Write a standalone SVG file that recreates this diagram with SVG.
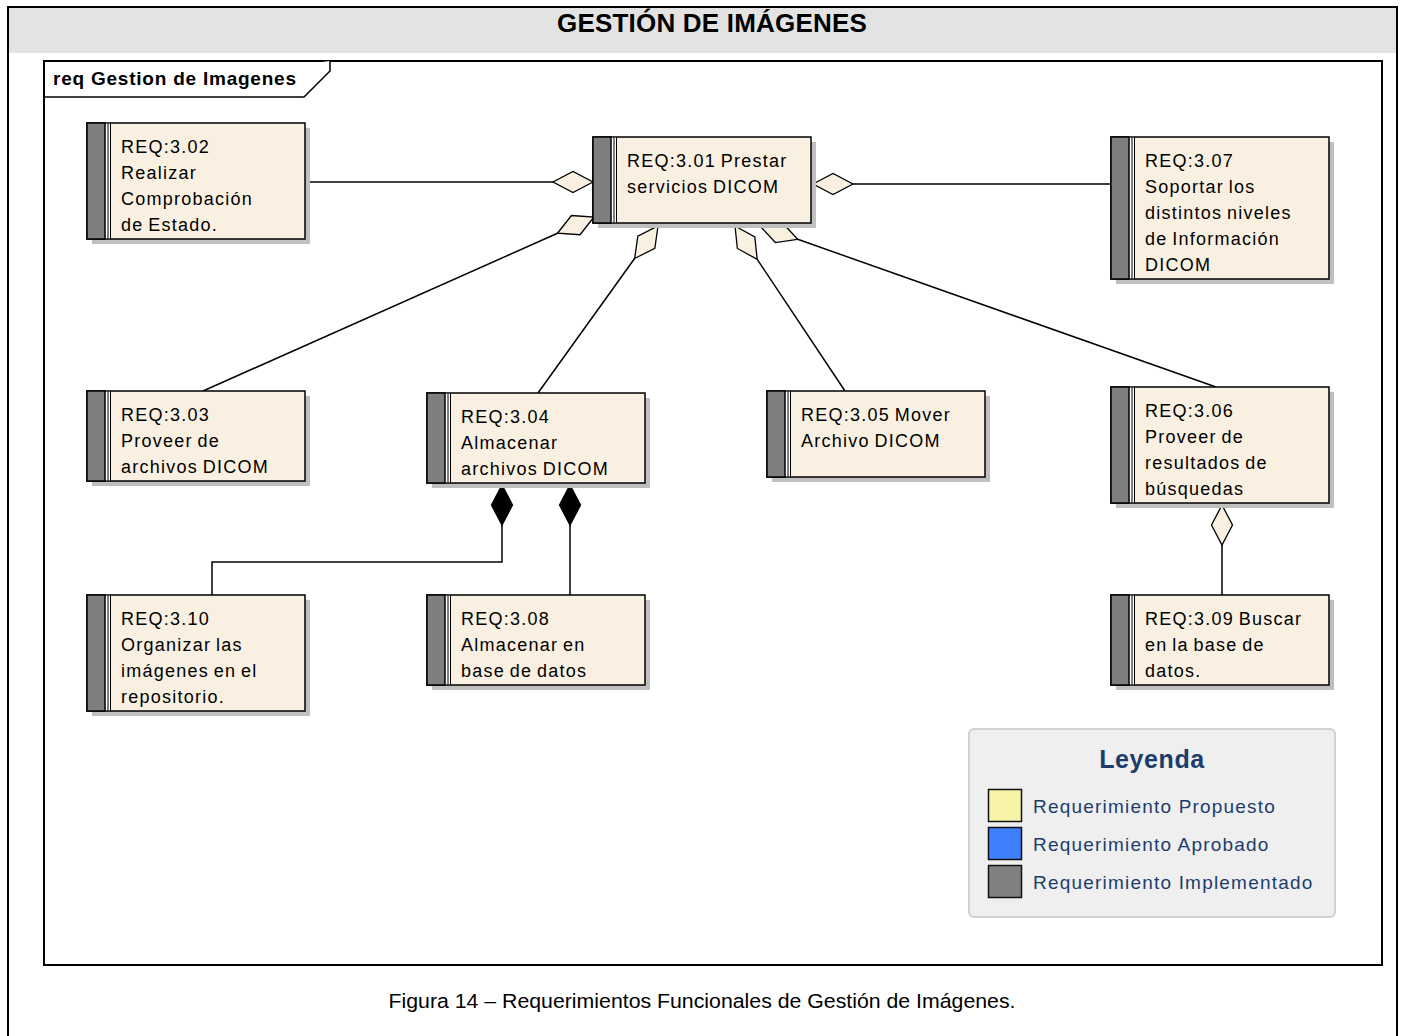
<svg xmlns="http://www.w3.org/2000/svg" width="1405" height="1036" viewBox="0 0 1405 1036">
  <style>
    .frame { fill: none; stroke: #000; stroke-width: 2; }
    .shadow { fill: #bfbfbf; }
    .body { fill: #faf0e2; stroke: #000; stroke-width: 1.5; }
    .bar { fill: #7f7f7f; stroke: #000; stroke-width: 1.5; }
    .gap { fill: #fff; }
    .sep { stroke: #000; stroke-width: 1; }
    .t { font-family: "Liberation Sans", Arial, sans-serif; font-size: 18px; letter-spacing: 1.25px; word-spacing: -1.5px; fill: #000; }
    .conn { fill: none; stroke: #000; stroke-width: 1.5; }
    .agg { fill: #faf0e2; stroke: #000; stroke-width: 1.3; }
    .comp { fill: #000; stroke: #000; stroke-width: 1.3; }
    .lg { font-family: "Liberation Sans", Arial, sans-serif; font-size: 19px; letter-spacing: 1.2px; fill: #1c3d6b; }
    .sw { stroke: #111; stroke-width: 1.5; }
  </style>
  <defs>
    <!-- diamond with its tip at the origin, pointing back along +x -->
    <path id="dia" d="M0,0 L20,-10.5 L40,0 L20,10.5 Z"/>
  </defs>

  <rect x="0" y="0" width="1405" height="1036" fill="#fff"/>

  <!-- outer page frame with grey title band -->
  <rect x="8" y="7" width="1389" height="46" fill="#e3e3e3"/>
  <rect class="frame" x="8" y="7" width="1389" height="1040"/>
  <text x="712" y="32" text-anchor="middle" font-family="Liberation Sans, Arial, sans-serif" font-weight="bold" font-size="26" letter-spacing="0.2" fill="#000">GESTIÓN DE IMÁGENES</text>

  <!-- diagram frame -->
  <rect class="frame" x="44" y="61" width="1338" height="904"/>
  <path d="M44,97 H304 L330,71 V61" fill="#fff" stroke="#000" stroke-width="1.5"/>
  <text x="53" y="85" font-family="Liberation Sans, Arial, sans-serif" font-weight="bold" font-size="19" textLength="243" lengthAdjust="spacing" fill="#000">req Gestion de Imagenes</text>

  <!-- connectors -->
  <g id="connectors">
    <!-- 3.02 -> 3.01 -->
    <line class="conn" x1="305" y1="182" x2="553" y2="182"/>
    <use href="#dia" class="agg" transform="translate(593,182) rotate(180)"/>
    <!-- 3.07 -> 3.01 -->
    <line class="conn" x1="853" y1="184" x2="1111" y2="184"/>
    <use href="#dia" class="agg" transform="translate(813,184)"/>
    <!-- 3.03 -> 3.01 -->
    <line class="conn" x1="557.5" y1="233.3" x2="203" y2="391"/>
    <use href="#dia" class="agg" transform="translate(594,217) rotate(156)"/>
    <!-- 3.04 -> 3.01 -->
    <line class="conn" x1="634.6" y1="258.5" x2="538" y2="393"/>
    <use href="#dia" class="agg" transform="translate(658,226) rotate(125.7)"/>
    <!-- 3.05 -> 3.01 -->
    <line class="conn" x1="757.2" y1="259.3" x2="845" y2="391"/>
    <use href="#dia" class="agg" transform="translate(735,226) rotate(56.3)"/>
    <!-- 3.06 -> 3.01 -->
    <line class="conn" x1="797.7" y1="239.3" x2="1216" y2="387"/>
    <use href="#dia" class="agg" transform="translate(760,226) rotate(19.45)"/>
    <!-- 3.10 -> 3.04 (composition) -->
    <polyline class="conn" points="212,595 212,562 502,562 502,525"/>
    <use href="#dia" class="comp" transform="translate(502,485) rotate(90)"/>
    <!-- 3.08 -> 3.04 (composition) -->
    <line class="conn" x1="570" y1="525" x2="570" y2="595"/>
    <use href="#dia" class="comp" transform="translate(570,485) rotate(90)"/>
    <!-- 3.09 -> 3.06 -->
    <line class="conn" x1="1222" y1="545" x2="1222" y2="595"/>
    <use href="#dia" class="agg" transform="translate(1222,505) rotate(90)"/>
  </g>

  <!-- requirement nodes -->
  <g id="req-3-02" transform="translate(87,123)">
    <rect class="shadow" x="5" y="5" width="218" height="116"/>
    <rect class="body" width="218" height="116"/>
    <rect class="gap" x="18" y="0.75" width="5.5" height="114.5"/>
    <rect class="bar" width="18" height="116"/>
    <line class="sep" x1="21" y1="0" x2="21" y2="116"/>
    <line class="sep" x1="23.5" y1="0" x2="23.5" y2="116"/>
    <text class="t" x="34" y="30">REQ:3.02</text>
    <text class="t" x="34" y="56">Realizar</text>
    <text class="t" x="34" y="82">Comprobación</text>
    <text class="t" x="34" y="108">de Estado.</text>
  </g>

  <g id="req-3-01" transform="translate(593,137)">
    <rect class="shadow" x="5" y="5" width="218" height="86"/>
    <rect class="body" width="218" height="86"/>
    <rect class="gap" x="18" y="0.75" width="5.5" height="84.5"/>
    <rect class="bar" width="18" height="86"/>
    <line class="sep" x1="21" y1="0" x2="21" y2="86"/>
    <line class="sep" x1="23.5" y1="0" x2="23.5" y2="86"/>
    <text class="t" x="34" y="30">REQ:3.01 Prestar</text>
    <text class="t" x="34" y="56">servicios DICOM</text>
  </g>

  <g id="req-3-07" transform="translate(1111,137)">
    <rect class="shadow" x="5" y="5" width="218" height="142"/>
    <rect class="body" width="218" height="142"/>
    <rect class="gap" x="18" y="0.75" width="5.5" height="140.5"/>
    <rect class="bar" width="18" height="142"/>
    <line class="sep" x1="21" y1="0" x2="21" y2="142"/>
    <line class="sep" x1="23.5" y1="0" x2="23.5" y2="142"/>
    <text class="t" x="34" y="30">REQ:3.07</text>
    <text class="t" x="34" y="56">Soportar los</text>
    <text class="t" x="34" y="82">distintos niveles</text>
    <text class="t" x="34" y="108">de Información</text>
    <text class="t" x="34" y="134">DICOM</text>
  </g>

  <g id="req-3-03" transform="translate(87,391)">
    <rect class="shadow" x="5" y="5" width="218" height="90"/>
    <rect class="body" width="218" height="90"/>
    <rect class="gap" x="18" y="0.75" width="5.5" height="88.5"/>
    <rect class="bar" width="18" height="90"/>
    <line class="sep" x1="21" y1="0" x2="21" y2="90"/>
    <line class="sep" x1="23.5" y1="0" x2="23.5" y2="90"/>
    <text class="t" x="34" y="30">REQ:3.03</text>
    <text class="t" x="34" y="56">Proveer de</text>
    <text class="t" x="34" y="82">archivos DICOM</text>
  </g>

  <g id="req-3-04" transform="translate(427,393)">
    <rect class="shadow" x="5" y="5" width="218" height="90"/>
    <rect class="body" width="218" height="90"/>
    <rect class="gap" x="18" y="0.75" width="5.5" height="88.5"/>
    <rect class="bar" width="18" height="90"/>
    <line class="sep" x1="21" y1="0" x2="21" y2="90"/>
    <line class="sep" x1="23.5" y1="0" x2="23.5" y2="90"/>
    <text class="t" x="34" y="30">REQ:3.04</text>
    <text class="t" x="34" y="56">Almacenar</text>
    <text class="t" x="34" y="82">archivos DICOM</text>
  </g>

  <g id="req-3-05" transform="translate(767,391)">
    <rect class="shadow" x="5" y="5" width="218" height="86"/>
    <rect class="body" width="218" height="86"/>
    <rect class="gap" x="18" y="0.75" width="5.5" height="84.5"/>
    <rect class="bar" width="18" height="86"/>
    <line class="sep" x1="21" y1="0" x2="21" y2="86"/>
    <line class="sep" x1="23.5" y1="0" x2="23.5" y2="86"/>
    <text class="t" x="34" y="30">REQ:3.05 Mover</text>
    <text class="t" x="34" y="56">Archivo DICOM</text>
  </g>

  <g id="req-3-06" transform="translate(1111,387)">
    <rect class="shadow" x="5" y="5" width="218" height="116"/>
    <rect class="body" width="218" height="116"/>
    <rect class="gap" x="18" y="0.75" width="5.5" height="114.5"/>
    <rect class="bar" width="18" height="116"/>
    <line class="sep" x1="21" y1="0" x2="21" y2="116"/>
    <line class="sep" x1="23.5" y1="0" x2="23.5" y2="116"/>
    <text class="t" x="34" y="30">REQ:3.06</text>
    <text class="t" x="34" y="56">Proveer de</text>
    <text class="t" x="34" y="82">resultados de</text>
    <text class="t" x="34" y="108">búsquedas</text>
  </g>

  <g id="req-3-10" transform="translate(87,595)">
    <rect class="shadow" x="5" y="5" width="218" height="116"/>
    <rect class="body" width="218" height="116"/>
    <rect class="gap" x="18" y="0.75" width="5.5" height="114.5"/>
    <rect class="bar" width="18" height="116"/>
    <line class="sep" x1="21" y1="0" x2="21" y2="116"/>
    <line class="sep" x1="23.5" y1="0" x2="23.5" y2="116"/>
    <text class="t" x="34" y="30">REQ:3.10</text>
    <text class="t" x="34" y="56">Organizar las</text>
    <text class="t" x="34" y="82">imágenes en el</text>
    <text class="t" x="34" y="108">repositorio.</text>
  </g>

  <g id="req-3-08" transform="translate(427,595)">
    <rect class="shadow" x="5" y="5" width="218" height="90"/>
    <rect class="body" width="218" height="90"/>
    <rect class="gap" x="18" y="0.75" width="5.5" height="88.5"/>
    <rect class="bar" width="18" height="90"/>
    <line class="sep" x1="21" y1="0" x2="21" y2="90"/>
    <line class="sep" x1="23.5" y1="0" x2="23.5" y2="90"/>
    <text class="t" x="34" y="30">REQ:3.08</text>
    <text class="t" x="34" y="56">Almacenar en</text>
    <text class="t" x="34" y="82">base de datos</text>
  </g>

  <g id="req-3-09" transform="translate(1111,595)">
    <rect class="shadow" x="5" y="5" width="218" height="90"/>
    <rect class="body" width="218" height="90"/>
    <rect class="gap" x="18" y="0.75" width="5.5" height="88.5"/>
    <rect class="bar" width="18" height="90"/>
    <line class="sep" x1="21" y1="0" x2="21" y2="90"/>
    <line class="sep" x1="23.5" y1="0" x2="23.5" y2="90"/>
    <text class="t" x="34" y="30">REQ:3.09 Buscar</text>
    <text class="t" x="34" y="56">en la base de</text>
    <text class="t" x="34" y="82">datos.</text>
  </g>

  <!-- status legend -->
  <g id="legend">
    <rect x="969" y="729" width="366" height="188" rx="5" fill="#efefef" stroke="#d2d2d2" stroke-width="2"/>
    <text x="1152" y="768" text-anchor="middle" font-family="Liberation Sans, Arial, sans-serif" font-weight="bold" font-size="25" letter-spacing="0.6" fill="#1c3d6b">Leyenda</text>
    <rect class="sw" x="988.5" y="789.5" width="33" height="32" fill="#f7f3a6"/>
    <rect class="sw" x="988.5" y="827.5" width="33" height="32" fill="#3f80ff"/>
    <rect class="sw" x="988.5" y="865.5" width="33" height="32" fill="#808080"/>
    <text class="lg" x="1033" y="813">Requerimiento Propuesto</text>
    <text class="lg" x="1033" y="851">Requerimiento Aprobado</text>
    <text class="lg" x="1033" y="889">Requerimiento Implementado</text>
  </g>

  <!-- figure caption -->
  <text x="702" y="1008" text-anchor="middle" font-family="Liberation Sans, Arial, sans-serif" font-size="20.5" textLength="627" lengthAdjust="spacingAndGlyphs" fill="#000">Figura 14 – Requerimientos Funcionales de Gestión de Imágenes.</text>
</svg>
